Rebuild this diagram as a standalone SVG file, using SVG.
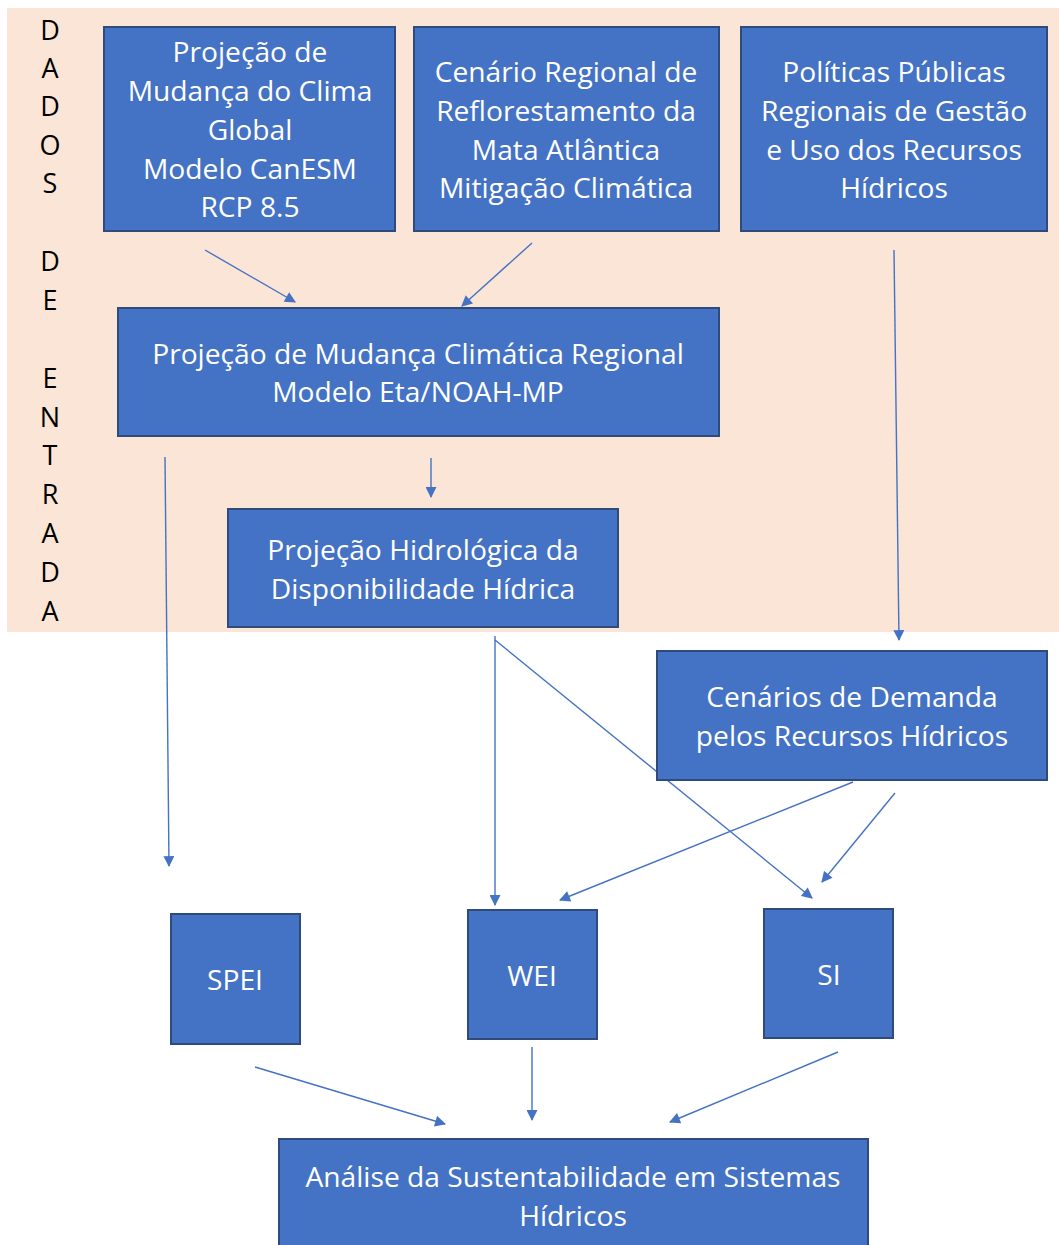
<svg xmlns="http://www.w3.org/2000/svg" width="1059" height="1245" viewBox="0 0 1059 1245">
<style>
.box{fill:#4472C4;stroke:#2F4B7C;stroke-width:2}
.t{font-family:"Open Sans","Liberation Sans",sans-serif;font-size:28.2px;fill:#FFFFFF;text-anchor:middle}
.side{font-family:"Open Sans","Liberation Sans",sans-serif;font-size:27px;fill:#000000;text-anchor:middle}
.c{stroke:#4472C4;stroke-width:1.4;fill:none;marker-end:url(#ah)}
</style>
<defs>
<marker id="ah" viewBox="0 0 10 10" refX="9" refY="5" markerWidth="12" markerHeight="11" markerUnits="userSpaceOnUse" orient="auto">
<path d="M0,0 L10,5 L0,10 z" fill="#4472C4"/>
</marker>
</defs>
<rect x="0" y="0" width="1059" height="1245" fill="#FFFFFF"/>
<rect id="input-area" x="7" y="8" width="1052" height="624" fill="#FBE5D6"/>
<g id="side-label" class="side">
<text x="50" y="40">D</text><text x="50" y="78">A</text><text x="50" y="116">D</text><text x="50" y="155">O</text><text x="50" y="193">S</text>
<text x="50" y="271">D</text><text x="50" y="310">E</text>
<text x="50" y="388">E</text><text x="50" y="427">N</text><text x="50" y="465">T</text><text x="50" y="504">R</text><text x="50" y="543">A</text><text x="50" y="582">D</text><text x="50" y="621">A</text>
</g>
<g id="connectors">
<line class="c" x1="205" y1="250" x2="295" y2="302"/>
<line class="c" x1="532" y1="243" x2="462" y2="306"/>
<line class="c" x1="894" y1="250" x2="899" y2="640"/>
<line class="c" x1="431" y1="458" x2="431" y2="497"/>
<line class="c" x1="165" y1="457" x2="169" y2="866"/>
<line class="c" x1="495" y1="636" x2="495" y2="905"/>
<line class="c" x1="495" y1="640" x2="812" y2="898"/>
<line class="c" x1="853" y1="782" x2="560" y2="900"/>
<line class="c" x1="895" y1="793" x2="822" y2="882"/>
<line class="c" x1="255" y1="1067" x2="445" y2="1124"/>
<line class="c" x1="532" y1="1047" x2="532" y2="1120"/>
<line class="c" x1="838" y1="1052" x2="670" y2="1122"/>
</g>
<g id="n1"><rect class="box" x="104" y="27" width="291" height="204"/>
<text class="t"><tspan x="250" y="62">Projeção de</tspan><tspan x="250" y="101">Mudança do Clima</tspan><tspan x="250" y="140">Global</tspan><tspan x="250" y="179">Modelo CanESM</tspan><tspan x="250" y="217">RCP 8.5</tspan></text></g>
<g id="n2"><rect class="box" x="414" y="27" width="305" height="204"/>
<text class="t"><tspan x="566" y="82">Cenário Regional de</tspan><tspan x="566" y="121">Reflorestamento da</tspan><tspan x="566" y="160">Mata Atlântica</tspan><tspan x="566" y="198">Mitigação Climática</tspan></text></g>
<g id="n3"><rect class="box" x="741" y="27" width="306" height="204"/>
<text class="t"><tspan x="894" y="82">Políticas Públicas</tspan><tspan x="894" y="121">Regionais de Gestão</tspan><tspan x="894" y="160">e Uso dos Recursos</tspan><tspan x="894" y="198">Hídricos</tspan></text></g>
<g id="n4"><rect class="box" x="118" y="308" width="601" height="128"/>
<text class="t"><tspan x="418" y="364">Projeção de Mudança Climática Regional</tspan><tspan x="418" y="402">Modelo Eta/NOAH-MP</tspan></text></g>
<g id="n5"><rect class="box" x="228" y="509" width="390" height="118"/>
<text class="t"><tspan x="423" y="560">Projeção Hidrológica da</tspan><tspan x="423" y="599">Disponibilidade Hídrica</tspan></text></g>
<g id="n6"><rect class="box" x="657" y="651" width="390" height="129"/>
<text class="t"><tspan x="852" y="707">Cenários de Demanda</tspan><tspan x="852" y="746">pelos Recursos Hídricos</tspan></text></g>
<g id="n7"><rect class="box" x="171" y="914" width="129" height="130"/>
<text class="t" x="235" y="990">SPEI</text></g>
<g id="n8"><rect class="box" x="468" y="910" width="129" height="129"/>
<text class="t" x="532" y="986">WEI</text></g>
<g id="n9"><rect class="box" x="764" y="909" width="129" height="129"/>
<text class="t" x="829" y="985">SI</text></g>
<g id="n10"><rect class="box" x="279" y="1139" width="589" height="120"/>
<text class="t"><tspan x="573" y="1187">Análise da Sustentabilidade em Sistemas</tspan><tspan x="573" y="1226">Hídricos</tspan></text></g>
</svg>
